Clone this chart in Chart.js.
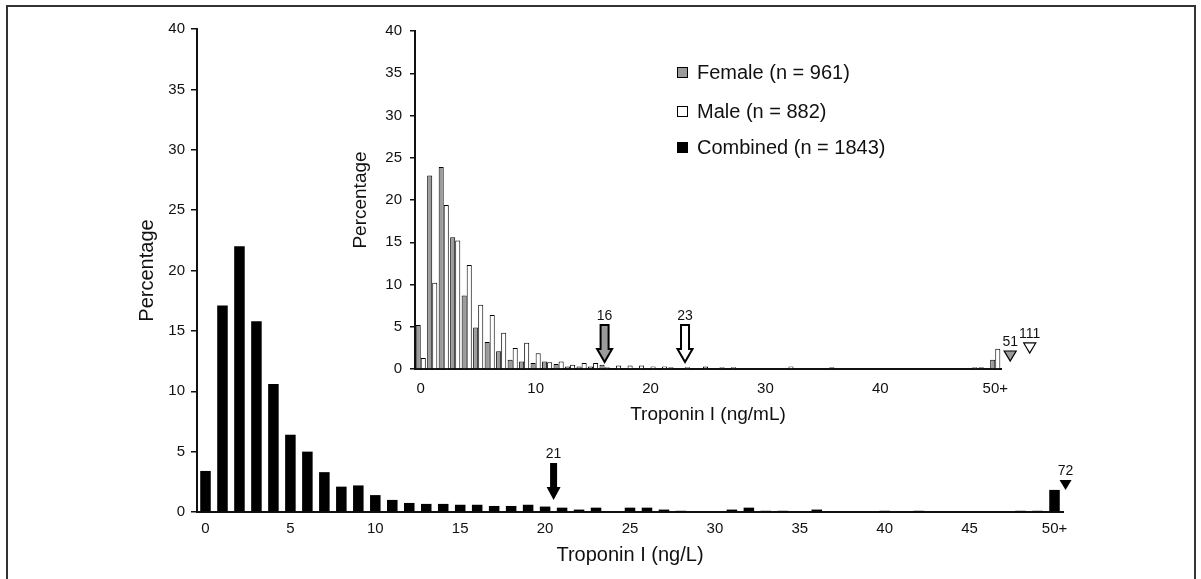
<!DOCTYPE html>
<html>
<head>
<meta charset="utf-8">
<script src="https://cdn.jsdelivr.net/npm/chart.js@4.4.1/dist/chart.umd.min.js"></script>
<style>
  html, body { margin: 0; padding: 0; background: #fff; }
  body { width: 1201px; height: 579px; position: relative; overflow: hidden; font-family: "Liberation Sans", Arial, sans-serif; }
  #frame { position: absolute; left: 6px; top: 5px; width: 1186px; height: 620px; border: 2px solid #333; }
  #main { position: absolute; left: 0; top: 0; }
  #inset { position: absolute; left: 340px; top: 0; }
  #legend { position: absolute; left: 677px; top: 0; font-size: 20px; color: #111; }
  .row { position: absolute; left: 0; height: 24px; display: flex; align-items: center; white-space: nowrap; }
  .box { width: 9px; height: 9px; border: 1px solid #000; margin-right: 9px; }
</style>
</head>
<body>
<div id="frame"></div>
<canvas id="main" width="1201" height="579"></canvas>
<canvas id="inset" width="720" height="440"></canvas>
<div id="legend">
  <div class="row" style="top:60px"><span class="box" style="background:#9b9b9b"></span>Female (n = 961)</div>
  <div class="row" style="top:99px"><span class="box" style="background:#fff"></span>Male (n = 882)</div>
  <div class="row" style="top:135px"><span class="box" style="background:#000"></span>Combined (n = 1843)</div>
</div>
<script>
// bins 0..49 plus the open 50+ bin
const binLabels = [];
for (let i = 0; i < 50; i++) binLabels.push(String(i));
binLabels.push('50+');

// combined, ng/L (main chart)
const combined = [3.4, 17.1, 22.0, 15.8, 10.6, 6.4, 5.0, 3.3, 2.1, 2.2,
  1.4, 1.0, 0.75, 0.67, 0.67, 0.6, 0.6, 0.5, 0.5, 0.6,
  0.45, 0.36, 0.2, 0.36, 0, 0.36, 0.36, 0.2, 0.1, 0,
  0, 0.2, 0.36, 0.1, 0.1, 0, 0.2, 0, 0, 0,
  0.1, 0, 0.1, 0, 0, 0, 0, 0, 0.1, 0.1, 1.83];

// inset, ng/mL
const female = [5.2, 22.9, 23.9, 15.6, 8.7, 4.9, 3.2, 2.1, 1.1, 0.9,
  0.7, 0.9, 0.6, 0.3, 0.3, 0.3, 0.5, 0.1, 0.1, 0.1,
  0.1, 0.1, 0.2, 0.1, 0.1, 0.3, 0.1, 0.1, 0.1, 0,
  0.1, 0.1, 0, 0, 0.1, 0, 0.2, 0, 0.1, 0.1,
  0.1, 0.1, 0.1, 0.1, 0, 0.1, 0.1, 0, 0, 0.2, 1.1];
const male = [1.3, 10.2, 19.4, 15.2, 12.3, 7.6, 6.4, 4.3, 2.5, 3.1,
  1.85, 0.8, 0.9, 0.5, 0.7, 0.7, 0.2, 0.4, 0.4, 0.4,
  0.3, 0.3, 0.1, 0.2, 0, 0.1, 0.2, 0.2, 0.1, 0,
  0.1, 0.1, 0.3, 0, 0.1, 0, 0.1, 0, 0.1, 0.1,
  0.1, 0.1, 0.1, 0.1, 0, 0.1, 0.1, 0, 0.2, 0.1, 2.4];

// markers: 99th percentile arrows and max-value triangles
const mainArrow = { at: 20.5, tip: 1.0, text: '21' };
const mainMax = { at: 50.65, top: 2.65, text: '72' };
const insetArrows = [{ at: 16, tip: 0.83, text: '16', fill: '#9b9b9b' }, { at: 23, tip: 0.83, text: '23', fill: '#fff' }];
const insetMax = [{ at: 51.3, top: 2.13, text: '51', fill: '#9b9b9b' }, { at: 53.0, top: 3.08, text: '111', fill: '#fff' }];

Chart.defaults.font.family = "'Liberation Sans', Arial, sans-serif";
Chart.defaults.color = '#111';

function drawArrow(ctx, x, tipY, fill, outline) {
  const len = 37, shaft = outline ? 8 : 7, head = outline ? 15 : 14, headH = 13;
  const top = tipY - len;
  ctx.save();
  ctx.beginPath();
  ctx.moveTo(x - shaft / 2, top);
  ctx.lineTo(x + shaft / 2, top);
  ctx.lineTo(x + shaft / 2, tipY - headH);
  ctx.lineTo(x + head / 2, tipY - headH);
  ctx.lineTo(x, tipY);
  ctx.lineTo(x - head / 2, tipY - headH);
  ctx.lineTo(x - shaft / 2, tipY - headH);
  ctx.closePath();
  ctx.fillStyle = fill;
  ctx.fill();
  if (outline) { ctx.lineWidth = 2; ctx.strokeStyle = '#000'; ctx.stroke(); }
  ctx.restore();
  return top;
}

function drawTri(ctx, x, top, fill, outline) {
  const w = 12, h = 10;
  ctx.save();
  ctx.beginPath();
  ctx.moveTo(x - w / 2, top);
  ctx.lineTo(x + w / 2, top);
  ctx.lineTo(x, top + h);
  ctx.closePath();
  ctx.fillStyle = fill;
  ctx.fill();
  if (outline) { ctx.lineWidth = 1.2; ctx.strokeStyle = '#000'; ctx.stroke(); }
  ctx.restore();
}

function mark(ctx, text, x, y) {
  ctx.save();
  ctx.font = "14px 'Liberation Sans', Arial, sans-serif";
  ctx.fillStyle = '#111';
  ctx.textAlign = 'center';
  ctx.textBaseline = 'bottom';
  ctx.fillText(text, x, y - 2);
  ctx.restore();
}

const mainMarks = {
  id: 'mainMarks',
  afterDraw(chart) {
    const { ctx, scales: { x, y } } = chart;
    const ax = x.getPixelForValue(mainArrow.at);
    const top = drawArrow(ctx, ax, y.getPixelForValue(mainArrow.tip), '#000', false);
    mark(ctx, mainArrow.text, ax, top);
    const tx = x.getPixelForValue(mainMax.at), ty = y.getPixelForValue(mainMax.top);
    drawTri(ctx, tx, ty, '#000', false);
    mark(ctx, mainMax.text, tx, ty);
  }
};

const insetMarks = {
  id: 'insetMarks',
  afterDraw(chart) {
    const { ctx, scales: { x, y } } = chart;
    insetArrows.forEach(a => {
      const ax = x.getPixelForValue(a.at);
      const top = drawArrow(ctx, ax, y.getPixelForValue(a.tip), a.fill, true);
      mark(ctx, a.text, ax, top);
    });
    insetMax.forEach(t => {
      const tx = x.getPixelForValue(t.at), ty = y.getPixelForValue(t.top);
      drawTri(ctx, tx, ty, t.fill, true);
      mark(ctx, t.text, tx, ty);
    });
  }
};

new Chart(document.getElementById('main'), {
  type: 'bar',
  data: {
    labels: binLabels,
    datasets: [{ label: 'Combined (n = 1843)', data: combined, backgroundColor: '#000',
      categoryPercentage: 0.62, barPercentage: 1 }]
  },
  options: {
    responsive: false,
    animation: false,
    layout: { padding: { left: 0, top: 29, right: 138, bottom: 0 } },
    plugins: { legend: { display: false }, tooltip: { enabled: false } },
    scales: {
      x: {
        grid: { display: false, drawTicks: false },
        border: { display: true, color: '#111', width: 2 },
        ticks: {
          autoSkip: false, maxRotation: 0, padding: 8, font: { size: 15 },
          callback: function (v, i) { return i % 5 === 0 ? this.getLabelForValue(v) : null; }
        },
        title: { display: true, text: 'Troponin I (ng/L)', font: { size: 20 }, padding: { top: 0, bottom: 12 } },
        afterFit: s => { s.height = 67; }
      },
      y: {
        min: 0, max: 40,
        ticks: { stepSize: 5, padding: 6, font: { size: 15 } },
        grid: { drawOnChartArea: false, drawTicks: true, tickLength: 6, color: '#111', lineWidth: 1.5 },
        border: { display: true, color: '#111', width: 2 },
        title: { display: true, text: 'Percentage', font: { size: 20 }, padding: { top: 135, bottom: 0 } },
        afterFit: s => { s.width = 197; }
      }
    }
  },
  plugins: [mainMarks]
});

new Chart(document.getElementById('inset'), {
  type: 'bar',
  data: {
    labels: binLabels,
    datasets: [
      { label: 'Female (n = 961)', data: female, backgroundColor: '#9b9b9b', borderColor: '#000', borderWidth: 1,
        categoryPercentage: 0.88, barPercentage: 1 },
      { label: 'Male (n = 882)', data: male, backgroundColor: '#fff', borderColor: '#000', borderWidth: 1,
        categoryPercentage: 0.88, barPercentage: 1 }
    ]
  },
  options: {
    responsive: false,
    animation: false,
    layout: { padding: { left: 0, top: 31, right: 59, bottom: 0 } },
    plugins: { legend: { display: false }, tooltip: { enabled: false } },
    scales: {
      x: {
        grid: { display: false, drawTicks: false },
        border: { display: true, color: '#111', width: 2 },
        ticks: {
          autoSkip: false, maxRotation: 0, padding: 11, font: { size: 15 },
          callback: function (v, i) { return i % 10 === 0 ? this.getLabelForValue(v) : null; }
        },
        title: { display: true, text: 'Troponin I (ng/mL)', font: { size: 19 }, padding: { top: 0, bottom: 14 } },
        afterFit: s => { s.height = 71; }
      },
      y: {
        min: 0, max: 40,
        ticks: { stepSize: 5, padding: 8, font: { size: 15 } },
        grid: { drawOnChartArea: false, drawTicks: true, tickLength: 5, color: '#111', lineWidth: 1.5 },
        border: { display: true, color: '#111', width: 2 },
        title: { display: true, text: 'Percentage', font: { size: 19 }, padding: { top: 9, bottom: 0 } },
        afterFit: s => { s.width = 75; }
      }
    }
  },
  plugins: [insetMarks]
});
</script>
</body>
</html>
